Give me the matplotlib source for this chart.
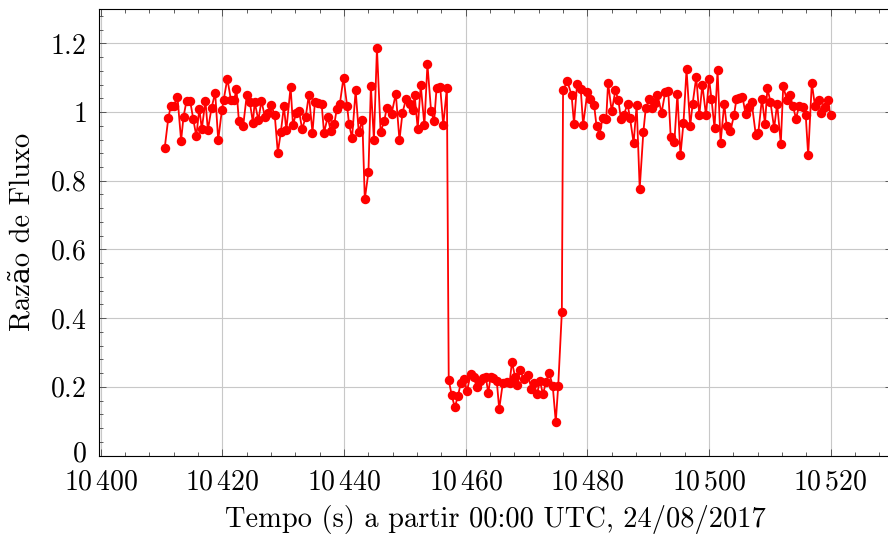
import matplotlib
matplotlib.use("Agg")
import matplotlib.pyplot as plt
import matplotlib.transforms as mtransforms
from matplotlib.ticker import MultipleLocator
import numpy as np

# tempo relativo a 10400 s e razao de fluxo
T0 = 10400
t_rel = [10.5, 11.1, 11.5, 12.0, 12.6, 13.2, 13.6, 14.1, 14.7, 15.2, 15.7, 16.2, 16.6, 17.2, 17.6, 18.2, 18.8, 19.3, 19.9, 20.2,
         20.8, 21.4, 21.9, 22.3, 22.7, 23.4, 24.0, 24.5, 25.0, 25.3, 25.9, 26.4, 27.0, 27.5, 28.0, 28.6, 29.1,
         29.6, 30.1, 30.5, 31.2, 31.6, 32.1, 32.6, 33.1, 33.7, 34.2, 34.8, 35.2, 35.7, 36.3, 36.7, 37.3, 37.8, 38.4,
         38.8, 39.3, 39.9, 40.5, 40.8, 41.3, 41.9, 42.4, 43.0, 43.4, 44.0, 44.4, 44.9, 45.4, 46.0, 46.6, 47.0,
         47.8, 48.5, 49.1, 49.6, 50.2, 50.8, 51.3, 51.6, 52.1, 52.6, 53.2, 53.7, 54.3, 54.8, 55.2, 55.8, 56.3, 56.9,
         57.2, 57.7, 58.2, 58.7, 59.2, 59.7, 60.2, 60.8, 61.3, 61.8, 62.3, 62.8, 63.3, 63.7, 64.1, 64.5, 65.1, 65.5,
         66.1, 66.8, 67.2, 67.6, 68.1, 68.5, 68.9, 69.5, 70.2, 70.8, 71.2, 71.7, 72.2, 72.7, 73.2, 73.7, 74.3, 74.8,
         75.2, 75.8,
         76.0, 76.7, 77.4, 77.8, 78.3, 78.9, 79.3, 80.0, 80.5, 81.1, 81.5, 82.0, 82.5, 83.1, 83.4, 84.0, 84.6, 85.1,
         85.5, 86.0, 86.6, 87.0, 87.6, 88.1, 88.6, 89.2, 89.6, 90.2, 90.7, 91.1, 91.5, 92.2, 92.8, 93.3,
         93.7, 94.3, 94.8, 95.3, 95.8, 96.3, 96.9, 97.3, 97.9, 98.4, 98.9, 99.5, 100.0, 100.4, 100.9, 101.4, 101.9,
         102.5, 102.9, 103.5, 104.1, 104.5, 105.0, 105.5, 106.0, 106.5,
         107.0, 107.7, 108.1, 108.7, 109.2, 109.6, 110.1, 110.7, 111.2, 111.8, 112.2, 112.8, 113.3, 113.8, 114.3,
         114.8, 115.4, 115.9, 116.3, 116.9, 117.4, 118.0, 118.4, 119.1, 119.5, 120.0]
ratio = [0.895, 0.983, 1.017, 1.019, 1.044, 0.917, 0.987, 1.033, 1.031, 0.979, 0.930, 1.010, 0.950, 1.033, 0.947, 1.012, 1.056, 0.918, 1.005, 1.036,
         1.097, 1.034, 1.034, 1.066, 0.974, 0.959, 1.050, 1.029, 0.969, 1.029, 0.976, 1.032, 0.985, 0.998, 1.021, 0.990, 0.882,
         0.942, 1.017, 0.947, 1.073, 0.961, 0.998, 1.002, 0.950, 0.987, 1.050, 0.940, 1.029, 1.027, 1.024, 0.940, 0.985, 0.945, 0.966,
         1.010, 1.024, 1.100, 1.017, 0.966, 0.924, 1.063, 0.942, 0.976, 0.746, 0.825, 1.075, 0.918, 1.186, 0.942, 0.973, 1.012,
         0.995, 1.053, 0.918, 0.998, 1.039, 1.024, 1.005, 1.049, 0.952, 1.078, 0.961, 1.139, 1.002, 0.973, 1.070, 1.073, 0.961, 1.071,
         0.220, 0.175, 0.140, 0.172, 0.212, 0.224, 0.187, 0.237, 0.228, 0.200, 0.218, 0.226, 0.228, 0.182, 0.230, 0.226, 0.217, 0.135,
         0.212, 0.215, 0.210, 0.273, 0.229, 0.205, 0.250, 0.224, 0.234, 0.195, 0.210, 0.178, 0.217, 0.178, 0.215, 0.241, 0.203, 0.098,
         0.202, 0.418,
         1.063, 1.090, 1.049, 0.966, 1.081, 1.068, 0.963, 1.058, 1.037, 1.021, 0.959, 0.934, 0.983, 0.981, 1.085, 1.002, 1.063, 1.034,
         0.981, 0.992, 1.024, 0.983, 0.910, 1.021, 0.777, 0.942, 1.012, 1.039, 1.012, 1.025, 1.050, 0.998, 1.058, 1.060,
         0.927, 0.913, 1.053, 0.874, 0.969, 1.124, 0.958, 1.024, 1.102, 0.990, 1.080, 0.990, 1.097, 1.039, 0.953, 1.121, 0.911,
         1.024, 0.959, 0.944, 0.990, 1.037, 1.040, 1.044, 0.995, 1.015,
         1.029, 0.932, 0.940, 1.039, 0.966, 1.070, 1.029, 0.953, 1.024, 0.908, 1.076, 1.034, 1.049, 1.017, 0.981,
         1.017, 1.015, 0.990, 0.874, 1.085, 1.019, 1.034, 0.997, 1.015, 1.034, 0.990]

xtick_vals = [10400, 10420, 10440, 10460, 10480, 10500, 10520]
xtick_labels = [r"$10\,400$", r"$10\,420$", r"$10\,440$", r"$10\,460$", r"$10\,480$", r"$10\,500$", r"$10\,520$"]
ytick_vals = [0, 0.2, 0.4, 0.6, 0.8, 1.0, 1.2]
ytick_labels = [r"$0$", r"$0.2$", r"$0.4$", r"$0.6$", r"$0.8$", r"$1$", r"$1.2$"]

plt.rcParams["mathtext.fontset"] = "cm"
plt.rcParams["font.family"] = ["cmr10", "DejaVu Serif"]
plt.rcParams["axes.unicode_minus"] = False

fig = plt.figure(figsize=(8.88, 5.34), dpi=100)
ax = fig.add_axes([99 / 888, (534 - 455.5) / 534, 792.5 / 888, 446.5 / 534])

ax.plot(T0 + np.array(t_rel), ratio, color="red", lw=1.3, marker="o", ms=6.8, mew=0, zorder=3)

ax.set_xlim(10399.7, 10530)
ax.set_ylim(0, 1.3)
ax.set_xticks(xtick_vals)
ax.set_xticklabels(xtick_labels)
ax.set_yticks(ytick_vals)
ax.set_yticklabels(ytick_labels)
ax.xaxis.set_minor_locator(MultipleLocator(4))
ax.yaxis.set_minor_locator(MultipleLocator(0.04))

ax.grid(True, which="major", color="#c8c8c8", lw=0.8)
ax.set_axisbelow(True)
ax.tick_params(which="both", direction="in", top=True, right=True, labelsize=20, color="#444444")
ax.tick_params(which="major", length=5, width=0.6)
ax.tick_params(which="minor", length=2.8, width=0.6)
ax.tick_params(axis="x", pad=10)
ax.tick_params(axis="y", pad=9)
for s in ax.spines.values():
    s.set_linewidth(0.8)

# o rotulo "0" fica um pouco acima, como no original
zero_lbl = ax.get_yticklabels()[0]
zero_lbl.set_transform(zero_lbl.get_transform() + mtransforms.ScaledTranslation(0, 3 / 72, fig.dpi_scale_trans))

ax.set_xlabel("Tempo (s) a partir 00:00 UTC, 24/08/2017", fontsize=20.5, labelpad=7)
ax.set_ylabel("Razão de Fluxo", fontsize=20.5, labelpad=10)

fig.savefig("out.png", dpi=100)
